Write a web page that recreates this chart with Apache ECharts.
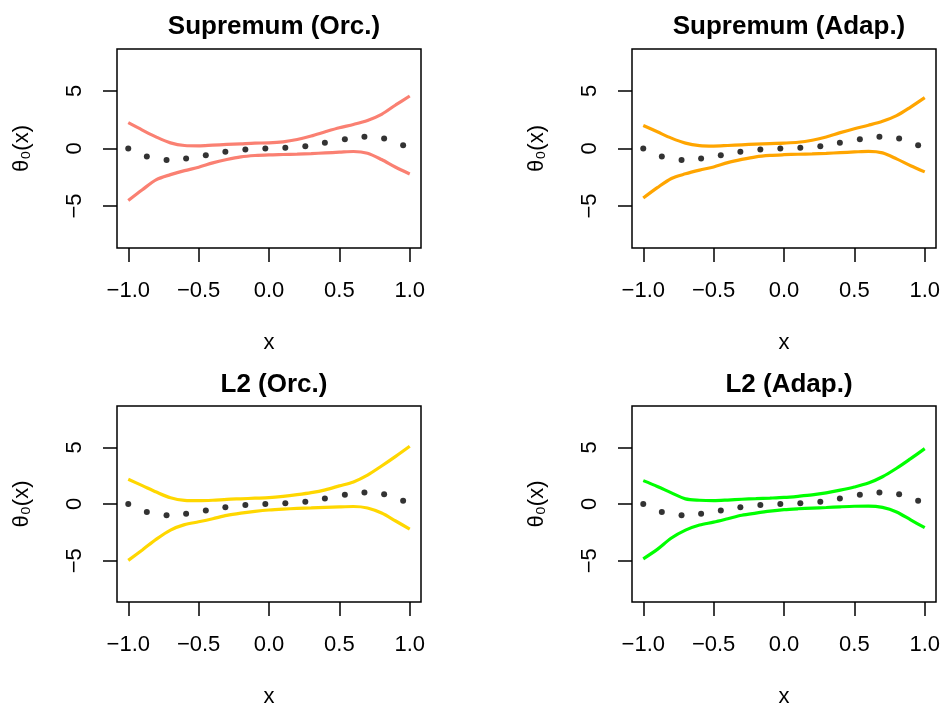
<!DOCTYPE html>
<html>
<head>
<meta charset="utf-8">
<script src="https://cdn.jsdelivr.net/npm/echarts@6/dist/echarts.min.js"></script>
<style>
html,body{margin:0;padding:0;background:#fff;}
#c{width:945px;height:709px;}
</style>
</head>
<body>
<div id="c"></div>
<script>
// ---- data ----
var panelTitles = ["Supremum (Orc.)", "Supremum (Adap.)", "L2 (Orc.)", "L2 (Adap.)"];
var panelColors = ["#FA8072", "#FFA500", "#FFD700", "#00FF00"];
var xTicks = [-1, -0.5, 0, 0.5, 1];
var yTicks = [-5, 0, 5];

// true function points (dots)
var dotX = [-1.000, -0.868, -0.728, -0.589, -0.449, -0.310, -0.168, -0.026, 0.116, 0.258, 0.397, 0.539, 0.678, 0.818, 0.953];
var dotY = [0.00, -0.70, -0.99, -0.87, -0.58, -0.29, -0.09, 0.00, 0.06, 0.20, 0.49, 0.81, 1.02, 0.87, 0.29];

// band x grid
var bandX = [-1, -0.9, -0.8, -0.7, -0.6, -0.5, -0.4, -0.3, -0.2, -0.1, 0, 0.1, 0.2, 0.3, 0.4, 0.5, 0.6, 0.7, 0.8, 0.9, 1];

var supOrcUpper = [2.24, 1.60, 0.99, 0.49, 0.26, 0.23, 0.29, 0.35, 0.41, 0.47, 0.49, 0.58, 0.78, 1.08, 1.45, 1.80, 2.09, 2.44, 2.97, 3.78, 4.56];
var supOrcLower = [-4.51, -3.58, -2.70, -2.27, -1.92, -1.63, -1.25, -0.96, -0.73, -0.61, -0.55, -0.52, -0.49, -0.44, -0.38, -0.32, -0.26, -0.41, -0.96, -1.63, -2.21];

var supAdpUpper = [2.00, 1.45, 0.90, 0.47, 0.25, 0.21, 0.26, 0.32, 0.38, 0.43, 0.47, 0.54, 0.72, 1.00, 1.38, 1.72, 2.02, 2.36, 2.85, 3.60, 4.42];
var supAdpLower = [-4.30, -3.40, -2.60, -2.20, -1.88, -1.60, -1.23, -0.95, -0.72, -0.60, -0.54, -0.50, -0.47, -0.42, -0.36, -0.30, -0.25, -0.38, -0.90, -1.50, -2.03];

var l2OrcUpper = [2.18, 1.62, 1.05, 0.55, 0.32, 0.29, 0.33, 0.41, 0.46, 0.51, 0.56, 0.67, 0.82, 1.00, 1.25, 1.60, 1.95, 2.55, 3.35, 4.20, 5.09];
var l2OrcLower = [-4.97, -4.05, -3.10, -2.30, -1.82, -1.57, -1.30, -1.00, -0.80, -0.65, -0.53, -0.45, -0.39, -0.35, -0.30, -0.25, -0.22, -0.35, -0.80, -1.50, -2.21];

var l2AdpUpper = [2.06, 1.55, 0.98, 0.45, 0.33, 0.30, 0.35, 0.42, 0.47, 0.52, 0.58, 0.68, 0.80, 0.98, 1.22, 1.50, 1.85, 2.40, 3.15, 4.00, 4.88];
var l2AdpLower = [-4.83, -4.00, -3.00, -2.30, -1.85, -1.60, -1.30, -0.99, -0.80, -0.63, -0.50, -0.42, -0.36, -0.31, -0.25, -0.20, -0.18, -0.30, -0.70, -1.40, -2.09];

var uppers = [supOrcUpper, supAdpUpper, l2OrcUpper, l2AdpUpper];
var lowers = [supOrcLower, supAdpLower, l2OrcLower, l2AdpLower];

// ---- layout ----
var grids = [
  {left: 117, top: 49, width: 304, height: 199},
  {left: 632, top: 49, width: 304, height: 199},
  {left: 117, top: 406, width: 304, height: 198},
  {left: 632, top: 406, width: 304, height: 198}
];
var titleTops = [9, 9, 367, 367];

var FONT = "'Liberation Sans', Arial, Helvetica, sans-serif";
function fmtX(v){ return (v < 0 ? "\u2212" : "") + Math.abs(v).toFixed(1); }
function fmtY(v){ return (v < 0 ? "\u2212" : "") + Math.abs(v).toFixed(0); }
function pairs(xs, ys){ return xs.map(function(x, i){ return [x, ys[i]]; }); }

var option = {
  animation: false,
  backgroundColor: "#fff",
  title: [], grid: [], xAxis: [], yAxis: [], series: []
};

for (var i = 0; i < 4; i++) {
  var g = grids[i];
  option.title.push({
    text: panelTitles[i],
    left: g.left + g.width / 2,
    top: titleTops[i],
    textAlign: "center",
    textStyle: {fontFamily: FONT, fontSize: 26, fontWeight: "bold", color: "#000"}
  });
  option.grid.push({
    left: g.left, top: g.top, width: g.width, height: g.height,
    show: true, borderColor: "#000", borderWidth: 1.5, backgroundColor: "transparent",
    containLabel: false
  });
  option.xAxis.push({
    type: "value", gridIndex: i, min: -1.08, max: 1.08,
    name: "x", nameLocation: "middle", nameGap: 84,
    nameTextStyle: {fontFamily: FONT, fontSize: 22, color: "#000"},
    axisLine: {show: false, onZero: false},
    axisTick: {show: true, inside: false, length: 14, customValues: xTicks, lineStyle: {color: "#000", width: 1.5}},
    axisLabel: {show: true, customValues: xTicks, margin: 32, formatter: fmtX,
      fontFamily: FONT, fontSize: 22, color: "#000"},
    splitLine: {show: false}
  });
  option.yAxis.push({
    type: "value", gridIndex: i, min: -8.64, max: 8.64,
    name: "\u03B8\u2080(x)", nameLocation: "middle", nameGap: 84, nameRotate: 90,
    nameTextStyle: {fontFamily: FONT, fontSize: 22, color: "#000"},
    axisLine: {show: false, onZero: false},
    axisTick: {show: true, inside: false, length: 14, customValues: yTicks, lineStyle: {color: "#000", width: 1.5}},
    axisLabel: {show: true, customValues: yTicks, margin: 31, rotate: 90, formatter: fmtY,
      fontFamily: FONT, fontSize: 22, color: "#000"},
    splitLine: {show: false}
  });
  option.series.push({
    type: "line", xAxisIndex: i, yAxisIndex: i, data: pairs(bandX, uppers[i]),
    showSymbol: false, smooth: 0.3, lineStyle: {color: panelColors[i], width: 3.2}, z: 2
  });
  option.series.push({
    type: "line", xAxisIndex: i, yAxisIndex: i, data: pairs(bandX, lowers[i]),
    showSymbol: false, smooth: 0.3, lineStyle: {color: panelColors[i], width: 3.2}, z: 2
  });
  option.series.push({
    type: "scatter", xAxisIndex: i, yAxisIndex: i, data: pairs(dotX, dotY),
    symbol: "circle", symbolSize: 6, itemStyle: {color: "#000"}, z: 3
  });
}

var chart = echarts.init(document.getElementById("c"), null, {renderer: "canvas"});
chart.setOption(option);
</script>
</body>
</html>
